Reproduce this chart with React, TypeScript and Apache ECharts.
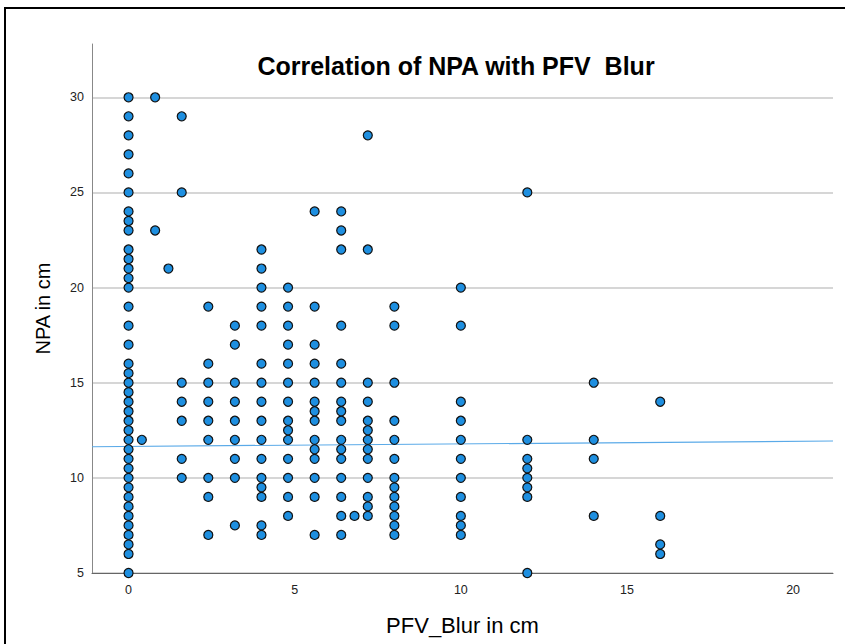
import React, { useEffect, useRef } from "react";
import * as echarts from "echarts";

const TITLE = "Correlation of NPA with PFV  Blur";
const X_TITLE = "PFV_Blur in cm";
const Y_TITLE = "NPA in cm";

// PFV_Blur column values and the NPA values observed at each
const X_VALUES = [0, 0.4, 0.8, 1.2, 1.6, 2.4, 3.2, 4, 4.8, 5.6, 6.4, 6.8, 7.2, 8, 10, 12, 14, 16];
const Y_AT_0 = [5, 6, 6.5, 7, 7.5, 8, 8.5, 9, 9.5, 10, 10.5, 11, 11.5, 12, 12.5, 13, 13.5, 14, 14.5, 15, 15.5, 16, 17, 18, 19, 20, 20.5, 21, 21.5, 22, 23, 23.5, 24, 25, 26, 27, 28, 29, 30];
const Y_AT_0_4 = [12];
const Y_AT_0_8 = [23, 30];
const Y_AT_1_2 = [21];
const Y_AT_1_6 = [10, 11, 13, 14, 15, 25, 29];
const Y_AT_2_4 = [7, 9, 10, 12, 13, 14, 15, 16, 19];
const Y_AT_3_2 = [7.5, 10, 11, 12, 13, 14, 15, 17, 18];
const Y_AT_4 = [7, 7.5, 9, 9.5, 10, 11, 12, 13, 14, 15, 16, 18, 19, 20, 21, 22];
const Y_AT_4_8 = [8, 9, 10, 11, 12, 12.5, 13, 14, 15, 16, 17, 18, 19, 20];
const Y_AT_5_6 = [7, 9, 10, 11, 11.5, 12, 13, 13.5, 14, 15, 16, 17, 19, 24];
const Y_AT_6_4 = [7, 8, 9, 10, 11, 11.5, 12, 13, 13.5, 14, 15, 16, 18, 22, 23, 24];
const Y_AT_6_8 = [8];
const Y_AT_7_2 = [8, 8.5, 9, 10, 11, 11.5, 12, 12.5, 13, 14, 15, 22, 28];
const Y_AT_8 = [7, 7.5, 8, 8.5, 9, 9.5, 10, 11, 12, 13, 15, 18, 19];
const Y_AT_10 = [7, 7.5, 8, 9, 10, 11, 12, 13, 14, 18, 20];
const Y_AT_12 = [5, 9, 9.5, 10, 10.5, 11, 12, 25];
const Y_AT_14 = [8, 11, 12, 15];
const Y_AT_16 = [6, 6.5, 8, 14];
const Y_COLUMNS = [Y_AT_0, Y_AT_0_4, Y_AT_0_8, Y_AT_1_2, Y_AT_1_6, Y_AT_2_4, Y_AT_3_2, Y_AT_4, Y_AT_4_8, Y_AT_5_6, Y_AT_6_4, Y_AT_6_8, Y_AT_7_2, Y_AT_8, Y_AT_10, Y_AT_12, Y_AT_14, Y_AT_16];

// Linear fit line
const FIT_INTERCEPT = 11.65;
const FIT_SLOPE = 0.0135;

const X_MIN = -1.1;
const X_MAX = 21.2;
const Y_MIN = 5;
const Y_MAX = 32.8;
const Y_TICKS = [5, 10, 15, 20, 25, 30];
const X_TICKS = [0, 5, 10, 15, 20];

export default function App() {
  const ref = useRef<HTMLDivElement>(null);
  useEffect(() => {
    if (!ref.current) return;
    const chart = echarts.init(ref.current, null, { renderer: "svg" });
    const points: number[][] = [];
    X_VALUES.forEach((x, i) => Y_COLUMNS[i].forEach((y) => points.push([x, y])));
    const fit = [
      [X_MIN, FIT_INTERCEPT + FIT_SLOPE * X_MIN],
      [X_MAX, FIT_INTERCEPT + FIT_SLOPE * X_MAX],
    ];
    const font = "'Liberation Sans', Arial, sans-serif";
    chart.setOption({
      animation: false,
      backgroundColor: "#ffffff",
      textStyle: { fontFamily: font },
      title: {
        text: TITLE,
        left: 451,
        top: 48,
        textAlign: "center",
        textStyle: { fontSize: 25, fontWeight: "bold", color: "#000", fontFamily: font },
      },
      grid: { left: 92, right: 12, top: 44, bottom: 71 },
      xAxis: {
        type: "value",
        min: X_MIN,
        max: X_MAX,
        splitNumber: 5,
        name: X_TITLE,
        nameLocation: "middle",
        nameGap: 41,
        nameTextStyle: { fontSize: 22, color: "#000", fontFamily: font },
        axisLine: { show: true, onZero: false, lineStyle: { color: "#666", width: 1 } },
        axisTick: { show: false },
        splitLine: { show: false },
        axisLabel: {
          fontSize: 12.5,
          color: "#222",
          margin: 10,
          showMinLabel: false,
          showMaxLabel: false,
          formatter: (v: number) => (X_TICKS.indexOf(Math.round(v * 1000) / 1000) >= 0 ? String(v) : ""),
        },
      },
      yAxis: {
        type: "value",
        min: Y_MIN,
        max: Y_MAX,
        interval: 5,
        name: Y_TITLE,
        nameLocation: "middle",
        nameGap: 39,
        nameTextStyle: { fontSize: 20, color: "#000", fontFamily: font },
        axisLine: { show: true, onZero: false, lineStyle: { color: "#888", width: 1 } },
        axisTick: { show: false },
        splitLine: { show: true, showMaxLine: false, lineStyle: { color: "#c8c8c8", width: 1.5 } },
        axisLabel: {
          fontSize: 12.5,
          color: "#222",
          margin: 8,
          showMaxLabel: false,
          formatter: (v: number) => (Y_TICKS.indexOf(v) >= 0 ? String(v) : ""),
        },
      },
      series: [
        {
          type: "line",
          data: fit,
          symbol: "none",
          lineStyle: { color: "#5aaae8", width: 1.2 },
          silent: true,
          z: 1,
        },
        {
          type: "scatter",
          data: points,
          symbolSize: 9,
          itemStyle: { color: "#1e8fe0", borderColor: "#111", borderWidth: 1.2, opacity: 1 },
          z: 2,
        },
      ],
      graphic: [
        {
          type: "rect",
          shape: { x: 5, y: 8, width: 850, height: 650 },
          style: { fill: "none", stroke: "#000", lineWidth: 2 },
          silent: true,
        },
      ],
    });
    return () => chart.dispose();
  }, []);
  return <div ref={ref} style={{ position: "fixed", left: 0, top: 0, width: 845, height: 644 }} />;
}
